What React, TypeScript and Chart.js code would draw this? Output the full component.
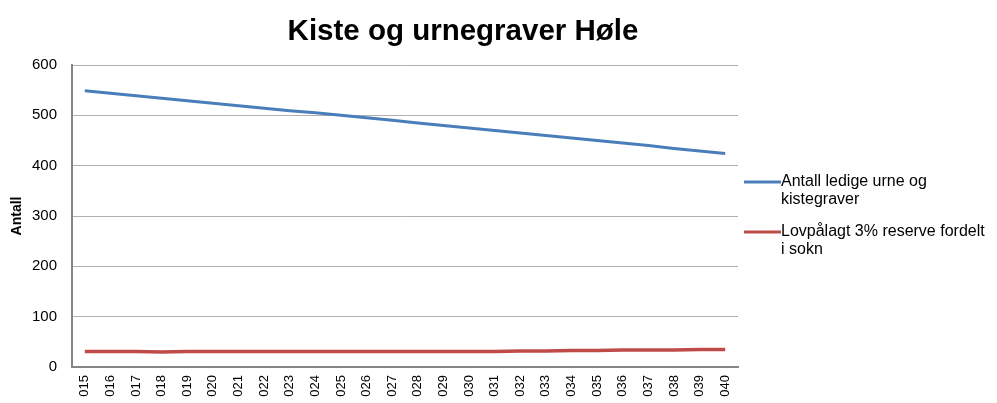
import React, { useEffect, useRef } from "react";
import { Chart, registerables } from "chart.js";

Chart.register(...registerables);

const years = [
  "2015", "2016", "2017", "2018", "2019", "2020", "2021", "2022", "2023", "2024",
  "2025", "2026", "2027", "2028", "2029", "2030", "2031", "2032", "2033", "2034",
  "2035", "2036", "2037", "2038", "2039", "2040",
];
const ledigeGraver = [
  549, 544, 539, 534, 529, 524, 519, 514, 509, 505,
  500, 495, 490, 485, 480, 475, 470, 465, 460, 455,
  450, 445, 440, 434, 429, 424,
];
const reserve = [
  31, 31, 31, 30, 31, 31, 31, 31, 31, 31,
  31, 31, 31, 31, 31, 31, 31, 32, 32, 33,
  33, 34, 34, 34, 35, 35,
];
const seriesLabels = [
  ["Antall ledige urne og", "kistegraver"],
  ["Lovpålagt 3% reserve fordelt", "i sokn"],
];
const yTicks = [0, 100, 200, 300, 400, 500, 600];
const titleText = "Kiste og urnegraver Høle";
const yTitle = "Antall";

const FONT = "'Liberation Sans', Arial, sans-serif";

const titleLegendPlugin = {
  id: "titleLegend",
  afterDraw(chart: any) {
    const ctx = chart.ctx;
    const area = chart.chartArea;
    ctx.save();
    // title
    ctx.font = `bold 29.5px ${FONT}`;
    ctx.fillStyle = "#000";
    ctx.textAlign = "center";
    ctx.textBaseline = "middle";
    ctx.fillText(titleText, 463, 32);
    // legend
    const lineH = 18;
    const gap = 14;
    const items = chart.data.datasets;
    let total = 0;
    items.forEach((d: any, i: number) => {
      total += (d.label as any).length * lineH + (i < items.length - 1 ? gap : 0);
    });
    let y = (area.top + area.bottom) / 2 - total / 2 + lineH / 2;
    const x0 = area.right + 6;
    ctx.font = `16px ${FONT}`;
    ctx.textAlign = "left";
    items.forEach((d: any) => {
      const lines = d.label as string[];
      ctx.strokeStyle = d.borderColor;
      ctx.lineWidth = 3;
      ctx.beginPath();
      ctx.moveTo(x0, y);
      ctx.lineTo(x0 + 37, y);
      ctx.stroke();
      ctx.fillStyle = "#000";
      lines.forEach((l, k) => {
        ctx.fillText(l, x0 + 37, y + k * lineH);
      });
      y += lines.length * lineH + gap;
    });
    ctx.restore();
  },
};

export default function App() {
  const ref = useRef<HTMLCanvasElement | null>(null);
  useEffect(() => {
    if (!ref.current) return;
    const chart = new Chart(ref.current, {
      type: "line",
      data: {
        labels: years,
        datasets: [
          {
            label: seriesLabels[0] as any,
            data: ledigeGraver,
            borderColor: "#4a7ebb",
            backgroundColor: "#4a7ebb",
            borderWidth: 3,
            pointRadius: 0,
            tension: 0,
          },
          {
            label: seriesLabels[1] as any,
            data: reserve,
            borderColor: "#be4b48",
            backgroundColor: "#be4b48",
            borderWidth: 3.5,
            pointRadius: 0,
            tension: 0,
          },
        ],
      },
      options: {
        responsive: true,
        maintainAspectRatio: false,
        animation: false,
        layout: { padding: { top: 65, right: 259, left: 0, bottom: 0 } },
        plugins: {
          legend: { display: false },
          title: { display: false },
          tooltip: { enabled: false },
        },
        scales: {
          x: {
            offset: true,
            grid: { display: false, drawTicks: false },
            border: { color: "#868686", width: 2 },
            ticks: {
              autoSkip: false,
              maxRotation: 90,
              minRotation: 90,
              padding: 8,
              color: "#000",
              font: { family: FONT, size: 13 },
              callback: (_v: any, i: number) => years[i].slice(1),
            },
            afterFit: (s: any) => {
              s.height = 36;
            },
          },
          y: {
            min: 0,
            max: 600,
            afterBuildTicks: (s: any) => {
              s.ticks = yTicks.map((v) => ({ value: v }));
            },
            grid: { color: "#b0b0b0", lineWidth: 1, drawTicks: false },
            border: { color: "#868686", width: 2 },
            ticks: {
              padding: 15,
              color: "#000",
              font: { family: FONT, size: 15 },
            },
            title: {
              display: true,
              text: yTitle,
              color: "#000",
              font: { family: FONT, size: 14, weight: "bold" },
              padding: { top: 9, bottom: 0 },
            },
            afterFit: (s: any) => {
              s.width = 72;
            },
          },
        },
      },
      plugins: [titleLegendPlugin],
    });
    return () => chart.destroy();
  }, []);
  return (
    <div style={{ position: "fixed", left: 0, top: 0, width: 997, height: 403, background: "#fff" }}>
      <canvas ref={ref} />
    </div>
  );
}
